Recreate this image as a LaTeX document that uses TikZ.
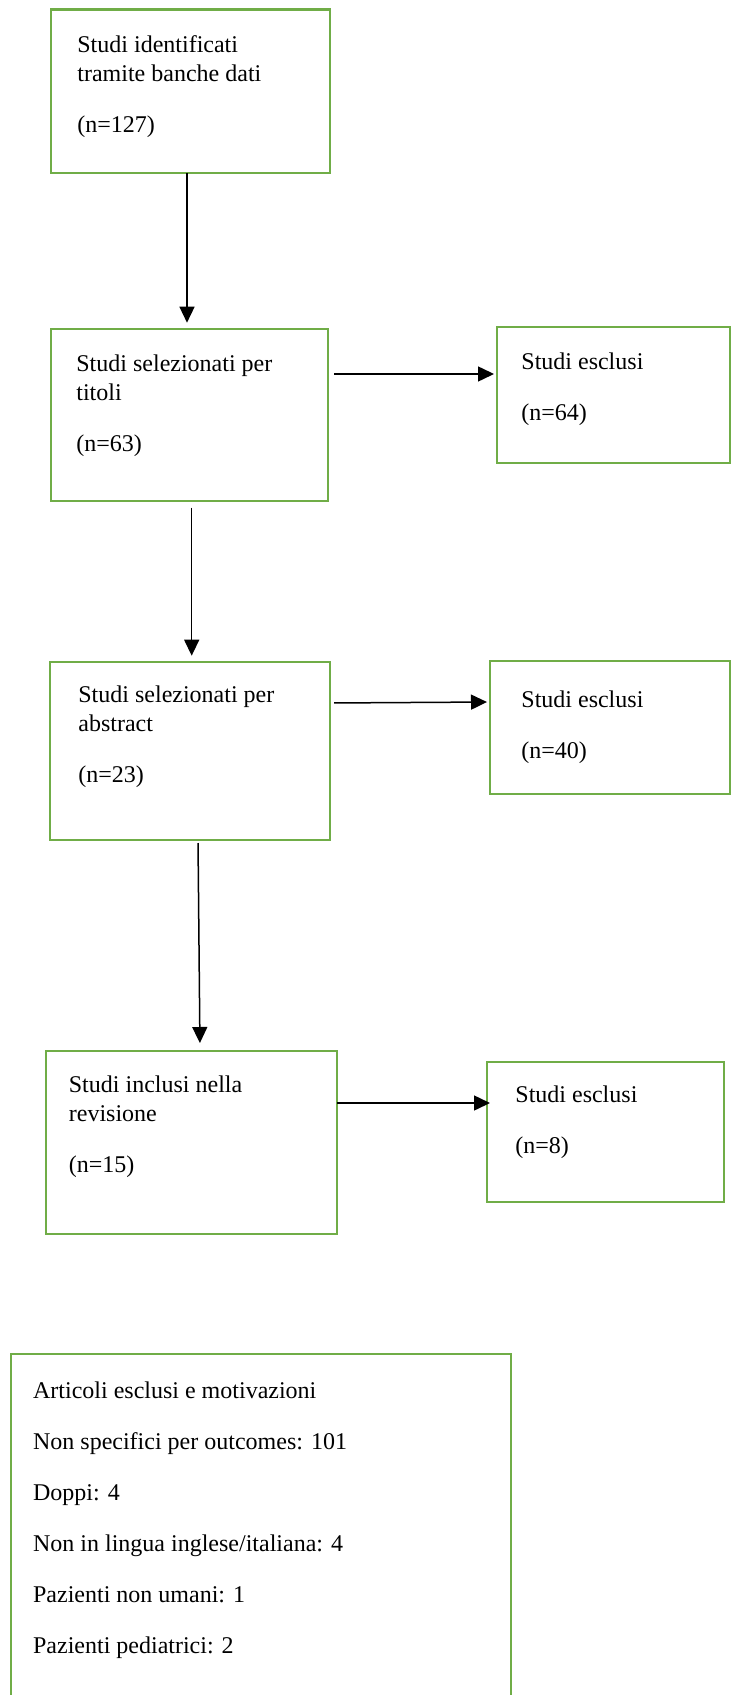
\documentclass[tikz,border=0pt]{standalone}
\usepackage{fontspec}
\setmainfont{Liberation Serif}
\usepackage{xcolor}
\usetikzlibrary{arrows.meta}
\definecolor{verde}{HTML}{70AD47}

\begin{document}
\begin{tikzpicture}[x=0.5pt, y=-0.5pt,
    riquadro/.style={draw=verde, line width=1.1pt, inner sep=0pt, outer sep=0pt},
    testo/.style={anchor=north west, inner sep=0pt, align=left, font=\fontsize{12}{14.25}\selectfont},
    freccia/.style={-{Triangle[length=8pt, width=7.5pt]}, line width=0.75pt}]
    \useasboundingbox (0,0) rectangle (731,1695);

    % Riquadri principali
    \node[riquadro, minimum width=139.5pt, minimum height=81.75pt] (ident) at (190.5,91.25) {};
    \node[riquadro, minimum width=138.5pt, minimum height=86pt] (titoli) at (189.5,415) {};
    \node[riquadro, minimum width=140pt, minimum height=89pt] (abstract) at (190,751) {};
    \node[riquadro, minimum width=145.5pt, minimum height=91.5pt] (inclusi) at (191.5,1142.5) {};

    % Riquadri degli esclusi
    \node[riquadro, minimum width=116.5pt, minimum height=68pt] (escl1) at (613.5,395) {};
    \node[riquadro, minimum width=120pt, minimum height=66.5pt] (escl2) at (610,727.5) {};
    \node[riquadro, minimum width=118.5pt, minimum height=70pt] (escl3) at (605.5,1132) {};

    % Riquadro delle motivazioni (aperto in basso)
    \node[riquadro, minimum width=250pt, minimum height=203pt] (motivi) at (261,1557) {};

    % Testi
    \node[testo] (t1) at (77,35.6) {Studi identificati\\tramite banche dati\\[11.25pt](n=127)};
    \node[testo] (t2) at (76,354.6) {Studi selezionati per\\titoli\\[11.25pt](n=63)};
    \node[testo] (t3) at (78,685.6) {Studi selezionati per\\abstract\\[11.25pt](n=23)};
    \node[testo] (t4) at (68.5,1075.6) {Studi inclusi nella\\revisione\\[11.25pt](n=15)};
    \node[testo] (e1) at (521,352) {Studi esclusi\\[11.25pt](n=64)};
    \node[testo] (e2) at (521,690.6) {Studi esclusi\\[11.25pt](n=40)};
    \node[testo] (e3) at (515,1085.6) {Studi esclusi\\[11.25pt](n=8)};
    \node[testo] (t5) at (32.7,1381.6) {Articoli esclusi e motivazioni\\[11.25pt]Non specifici per outcomes: 101\\[11.25pt]Doppi: 4\\[11.25pt]Non in lingua inglese/italiana: 4\\[11.25pt]Pazienti non umani: 1\\[11.25pt]Pazienti pediatrici: 2};

    % Frecce verticali
    \draw[freccia, shorten >=3.15pt] (187,0 |- ident.south) -- (187,0 |- titoli.north);
    \draw[freccia, shorten <=3.35pt, shorten >=3.15pt] (191.7,0 |- titoli.south) -- (191.7,0 |- abstract.north);
    \draw[freccia, shorten <=1.5pt, shorten >=4pt] (198,0 |- abstract.south) -- (200,0 |- inclusi.north);

    % Frecce orizzontali
    \draw[freccia, shorten <=3pt, shorten >=1.5pt] (titoli.east |- 0,374) -- (escl1.west |- 0,374);
    \draw[freccia, shorten <=2pt, shorten >=1.5pt] (abstract.east |- 0,703) -- (escl2.west |- 0,702);
    \draw[freccia, shorten >=-1.5pt] (inclusi.east |- 0,1103) -- (escl3.west |- 0,1103);
\end{tikzpicture}
\end{document}
